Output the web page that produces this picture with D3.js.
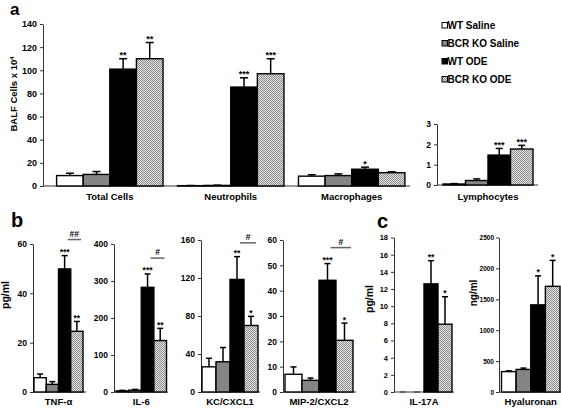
<!DOCTYPE html>
<html><head><meta charset="utf-8">
<script src="https://cdn.jsdelivr.net/npm/d3@7"></script>
<style>
body{margin:0;background:#fff}
text{font-family:"Liberation Sans",Arial,sans-serif;font-weight:bold;fill:#000}
</style>
</head><body><svg id="chart" width="561" height="408"></svg>
<script>
// ---------- data ----------
const series = ["WT Saline","BCR KO Saline","WT ODE","BCR KO ODE"];

const cellCategories = ["Total Cells","Neutrophils","Macrophages"];
const cellMeans  = [[9,10,101,110],[0.3,0.5,85.5,97],[8.5,9,14.5,11.5]];
const cellErrors = [[2,2.5,9,14],[0.1,0.2,8,13],[1.2,1.5,1.8,0.8]];
const cellStars  = [["","","**","**"],["","","***","***"],["","","*",""]];
const cellTicks  = [0,20,40,60,80,100,120,140];

const lymphCategory = ["Lymphocytes"];
const lymphMeans  = [0.05,0.22,1.47,1.77];
const lymphErrors = [0.02,0.08,0.33,0.18];
const lymphStars  = ["","","***","***"];
const lymphTicks  = [0,1,2,3];

const tnfMeans = [5.8,3.1,49.9,24.6];
const tnfErrors = [1.5,1.1,5.4,4.0];
const tnfStars = ["","","***","**"];
const tnfTicks = [0,20,40,60];

const il6Means = [3,5,283,139];
const il6Errors = [1.5,2,36,33];
const il6Stars = ["","","***","**"];
const il6Ticks = [0,100,200,300,400];

const kcMeans = [26.5,31.8,118.5,70];
const kcErrors = [9,15,24,9.6];
const kcStars = ["","","**","*"];
const kcTicks = [0,40,80,120,160];

const mipMeans = [7,4.6,44.1,20.4];
const mipErrors = [2.9,0.9,6.6,6.8];
const mipStars = ["","","***","*"];
const mipTicks = [0,10,20,30,40,50,60];

const il17Means = [0,0,12.6,7.9];
const il17Errors = [0,0,2.7,3.2];
const il17Stars = ["","","**","*"];
const il17Ticks = [0,2,4,6,8,10,12,14,16,18];

const hyalMeans = [330,365,1410,1710];
const hyalErrors = [12,22,470,420];
const hyalStars = ["","","*","*"];
const hyalTicks = [0,500,1000,1500,2000,2500];

// significance markers between WT ODE and BCR KO ODE (value level, label)
const hashMarks = {"TNF-α":[61.8,"##"],"IL-6":[362,"#"],"KC/CXCL1":[157,"#"],"MIP-2/CXCL2":[57,"#"]};

// ---------- drawing ----------
const svg = d3.select("#chart");
const defs = svg.append("defs");
const pat = defs.append("pattern").attr("id","dots").attr("width",2).attr("height",2)
  .attr("patternUnits","userSpaceOnUse");
pat.append("rect").attr("width",2).attr("height",2).attr("fill","#e4e4e4");
pat.append("rect").attr("width",1).attr("height",1).attr("fill","#8c8c8c");
pat.append("rect").attr("x",1).attr("y",1).attr("width",1).attr("height",1).attr("fill","#8c8c8c");
const fills = ["#ffffff","#858585","#000000","url(#dots)"];

function yAxis(y, ticks, x, fs, pad){
  const g = svg.append("g").attr("transform",`translate(${x},0)`)
    .call(d3.axisLeft(y).tickValues(ticks).tickFormat(d3.format("d")).tickSize(3).tickPadding(pad||3).tickSizeOuter(0));
  g.select(".domain").attr("stroke","#333").attr("stroke-width",1);
  g.selectAll(".tick line").attr("stroke","#333");
  g.selectAll(".tick text").style("font-size",fs+"px").style("font-family","Liberation Sans, Arial, sans-serif").style("font-weight","bold").attr("fill","#000");
  return g;
}

function bars(xs, y, means, errs, stars, capW, starFs){
  const g = svg.append("g");
  const w = xs.bandwidth();
  series.forEach((s,i)=>{
    const x0 = xs(s);
    const v = means[i];
    if (v > 0) {
      g.append("rect").attr("x",x0).attr("y",y(v)).attr("width",w).attr("height",y(0)-y(v))
        .attr("fill",fills[i]).attr("stroke","#000").attr("stroke-width",1.4);
    }
    const cx = x0 + w/2, top = y(v+errs[i]);
    if (v > 0) g.append("line").attr("x1",cx).attr("x2",cx).attr("y1",y(v)).attr("y2",top)
      .attr("stroke","#000").attr("stroke-width",1.5);
    g.append("line").attr("x1",cx-capW/2).attr("x2",cx+capW/2).attr("y1",top).attr("y2",top)
      .attr("stroke", v>0 ? "#000" : "#555").attr("stroke-width",1.5);
    if (stars[i]) g.append("text").attr("x",cx).attr("y",top-0.5).attr("text-anchor","middle")
      .style("font-size",starFs+"px").text(stars[i]);
  });
}

function baseline(x1,x2,y){
  svg.append("line").attr("x1",x1).attr("x2",x2).attr("y1",y).attr("y2",y)
    .attr("stroke","#333").attr("stroke-width",1);
}

// Panel a
const yA = d3.scaleLinear().domain([0,140]).range([186,24]);
const xA = d3.scaleBand().domain(cellCategories).range([44.5,417]).paddingInner(0.12).paddingOuter(0.1);
baseline(43,410,yA(0));
yAxis(yA, cellTicks, 43, 9);
cellCategories.forEach((c,k)=>{
  const xs = d3.scaleBand().domain(series).range([xA(c), xA(c)+xA.bandwidth()]);
  bars(xs, yA, cellMeans[k], cellErrors[k], cellStars[k], 8, 9);
  svg.append("text").attr("x",xA(c)+xA.bandwidth()/2).attr("y",200).attr("text-anchor","middle")
    .style("font-size","9.5px").text(c);
});
svg.append("text").attr("transform","translate(17,94) rotate(-90)").attr("text-anchor","middle")
  .style("font-size","9.5px").text("BALF Cells x 10").append("tspan").attr("dy",-3.5).style("font-size","6px").text("4");

// Lymphocytes
const yL = d3.scaleLinear().domain([0,3]).range([185,124]);
const xL = d3.scaleBand().domain(series).range([443,533]);
baseline(437,538,yL(0));
yAxis(yL, lymphTicks, 437, 8.5);
bars(xL, yL, lymphMeans, lymphErrors, lymphStars, 7, 9);
svg.append("text").attr("x",488).attr("y",200).attr("text-anchor","middle").style("font-size","9.5px").text(lymphCategory[0]);

// Legend
series.forEach((s,i)=>{
  const yb = 29 + i*18;
  svg.append("rect").attr("x",442).attr("y",yb-6.5).attr("width",5.5).attr("height",5.5)
    .attr("fill",fills[i]).attr("stroke","#000").attr("stroke-width",1);
  svg.append("text").attr("x",447.5).attr("y",yb).style("font-size","10px").text(s);
});

// Panel labels
svg.append("text").attr("x",10).attr("y",15).style("font-size","17px").text("a");
svg.append("text").attr("x",11).attr("y",227).style("font-size","20px").text("b");
svg.append("text").attr("x",377).attr("y",228).style("font-size","20px").text("c");

// Small cytokine panels
const smallPanels = [
  {name:"TNF-α", means:tnfMeans, errs:tnfErrors, stars:tnfStars, ticks:tnfTicks, axisX:33, b0:34, b1:83, end:86, top:244, fs:8.5, pad:3},
  {name:"IL-6", means:il6Means, errs:il6Errors, stars:il6Stars, ticks:il6Ticks, axisX:114, b0:116, b1:166.5, end:168, top:244, fs:8.5, pad:3},
  {name:"KC/CXCL1", means:kcMeans, errs:kcErrors, stars:kcStars, ticks:kcTicks, axisX:201, b0:202, b1:258, end:260, top:240, fs:8.5, pad:3},
  {name:"MIP-2/CXCL2", means:mipMeans, errs:mipErrors, stars:mipStars, ticks:mipTicks, axisX:283, b0:285, b1:353, end:356, top:240, fs:8.5, pad:3},
  {name:"IL-17A", means:il17Means, errs:il17Errors, stars:il17Stars, ticks:il17Ticks, axisX:394, b0:396, b1:452, end:454, top:237.5, fs:7.5, pad:3},
  {name:"Hyaluronan", means:hyalMeans, errs:hyalErrors, stars:hyalStars, ticks:hyalTicks, axisX:499, b0:501.5, b1:560, end:561, top:237.5, fs:6.5, pad:2}
];
smallPanels.forEach(p=>{
  const y = d3.scaleLinear().domain([0,p.ticks[p.ticks.length-1]]).range([392,p.top]);
  const xs = d3.scaleBand().domain(series).range([p.b0,p.b1]);
  baseline(p.axisX,p.end,392);
  yAxis(y,p.ticks,p.axisX,p.fs,p.pad);
  bars(xs,y,p.means,p.errs,p.stars,6,8.5);
  svg.append("text").attr("x",(p.b0+p.b1)/2).attr("y",405).attr("text-anchor","middle")
    .style("font-size","9.5px").text(p.name);
  const h = hashMarks[p.name];
  if (h){
    const x1 = xs(series[2])+xs.bandwidth()/2+3, x2 = xs(series[3])+xs.bandwidth()-2;
    svg.append("line").attr("x1",x1).attr("x2",x2).attr("y1",y(h[0])).attr("y2",y(h[0]))
      .attr("stroke","#666").attr("stroke-width",1.5);
    svg.append("text").attr("x",(x1+x2)/2).attr("y",y(h[0])-3).attr("text-anchor","middle")
      .style("font-size","8.5px").text(h[1]);
  }
});
svg.append("text").attr("transform","translate(9,295) rotate(-90)").attr("text-anchor","middle").style("font-size","10.5px").text("pg/ml");
svg.append("text").attr("transform","translate(373,299) rotate(-90)").attr("text-anchor","middle").style("font-size","10.5px").text("pg/ml");
svg.append("text").attr("transform","translate(477,293) rotate(-90)").attr("text-anchor","middle").style("font-size","10px").text("ng/ml");
</script></body></html>
